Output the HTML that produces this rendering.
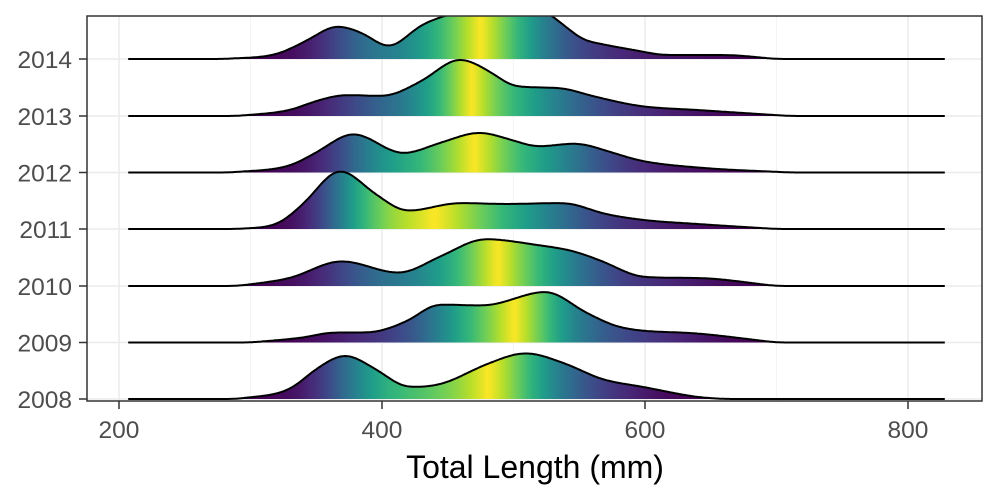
<!DOCTYPE html>
<html><head><meta charset="utf-8"><style>body{margin:0;background:#fff}svg{display:block}</style></head>
<body>
<svg id="s" width="1000" height="500" xmlns="http://www.w3.org/2000/svg" font-family="Liberation Sans, sans-serif">
<defs><clipPath id="cp"><rect x="87" y="16" width="895" height="385"/></clipPath></defs>
<rect x="0" y="0" width="1000" height="500" fill="#fff"/>
<g id="grid"></g>
<g id="ridges" clip-path="url(#cp)"></g>
<rect x="87" y="16" width="895" height="385" fill="none" stroke="#333" stroke-width="1.5"/>
<g id="ax" fill="#4d4d4d" font-size="24.5"></g>
<text x="535" y="478" font-size="32" text-anchor="middle" fill="#000">Total Length (mm)</text>
</svg>
<script>
const NS="http://www.w3.org/2000/svg";
const X=v=>119+(v-200)*1.315;
const base={2008:399,2009:342.5,2010:286,2011:229,2012:172.5,2013:116,2014:59};
const g=document.getElementById('grid'),R=document.getElementById('ridges'),A=document.getElementById('ax');
function el(t,a,p){const e=document.createElementNS(NS,t);for(const k in a)e.setAttribute(k,a[k]);p.appendChild(e);return e;}
[300,500,700].forEach(v=>el('line',{x1:X(v),x2:X(v),y1:16,y2:401,stroke:'#f2f2f2','stroke-width':0.8},g));
[200,400,600,800].forEach(v=>{el('line',{x1:X(v),x2:X(v),y1:16,y2:401,stroke:'#ebebeb','stroke-width':1.5},g);
 el('line',{x1:X(v),x2:X(v),y1:401,y2:409,stroke:'#333','stroke-width':1.5},A);
 el('text',{x:X(v),y:438,'text-anchor':'middle'},A).textContent=v;});
for(const y in base){el('line',{x1:87,x2:982,y1:base[y],y2:base[y],stroke:'#ebebeb','stroke-width':1.5},g);
 el('line',{x1:79,x2:87,y1:base[y],y2:base[y],stroke:'#333','stroke-width':1.5},A);
 el('text',{x:72,y:base[y]+9,'text-anchor':'end'},A).textContent=y;}
const P={
2014:[[280,0],[320,5],[345,20],[365,33],[385,26],[405,12],[430,34],[462,48],[492,53],[523,48],[540,32],[552,20],[567,15],[596,8],[615,4],[660,4],[700,0]],
2013:[[290,0],[330,6],[350,15],[372,21],[401,20],[430,35],[459,57],[485,42],[500,30],[535,28],[560,20],[596,10],[640,6],[710,0]],
2012:[[285,0],[330,7],[350,20],[378,39],[416,19],[445,30],[474,40],[500,32],[518,26],[547,29],[575,20],[596,12],[640,5],[710,0]],
2011:[[290,0],[320,5],[340,25],[368,59],[395,35],[419,18],[459,26],[494,25],[538,26],[570,15],[599,9],[640,5],[700,0]],
2010:[[290,0],[330,8],[369,25],[413,13],[445,30],[478,47],[518,41],[545,35],[567,25],[599,9],[640,8],[700,0]],
2009:[[300,0],[340,5],[363,10],[389,10],[420,22],[442,38],[477,37],[525,51],[555,30],[582,15],[640,9],[700,0]],
2008:[[290,0],[330,10],[350,30],[372,44],[395,30],[420,12],[445,15],[480,35],[509,46],[540,35],[567,20],[599,12],[640,2],[660,0]]};
function mono(pts){const n=pts.length,x=pts.map(p=>p[0]),y=pts.map(p=>p[1]);const d=[],m=[];
 for(let i=0;i<n-1;i++)d.push((y[i+1]-y[i])/(x[i+1]-x[i]));
 m[0]=d[0];m[n-1]=d[n-2];for(let i=1;i<n-1;i++)m[i]=(d[i-1]*d[i]<=0)?0:(d[i-1]+d[i])/2;
 for(let i=0;i<n-1;i++){if(d[i]===0){m[i]=m[i+1]=0;continue;}const a=m[i]/d[i],b=m[i+1]/d[i],s=a*a+b*b;if(s>9){const t=3/Math.sqrt(s);m[i]=t*a*d[i];m[i+1]=t*b*d[i];}}
 return v=>{if(v<=x[0]||v>=x[n-1])return 0;let i=0;while(v>x[i+1])i++;const h=x[i+1]-x[i],t=(v-x[i])/h;
  const h00=2*t*t*t-3*t*t+1,h10=t*t*t-2*t*t+t,h01=-2*t*t*t+3*t*t,h11=t*t*t-t*t;
  return Math.max(0,h00*y[i]+h10*h*m[i]+h01*y[i+1]+h11*h*m[i+1]);};}
const vir=[[68,1,84],[72,40,120],[62,74,137],[49,104,142],[38,130,142],[31,158,137],[53,183,121],[110,206,88],[181,222,43],[253,231,37]];
function vc(t){t=Math.max(0,Math.min(1,t))*9;const i=Math.min(8,Math.floor(t)),f=t-i;const a=vir[i],b=vir[i+1];
 return 'rgb('+a.map((c,k)=>Math.round(c+(b[k]-c)*f)).join(',')+')';}
const x0=207,x1=828,S=5,K=[];let ks=0;
for(let k=-15;k<=15;k++){const w=Math.exp(-0.5*(k/S)**2);K.push(w);ks+=w;}
Object.keys(base).sort((a,b)=>b-a).forEach(y=>{
 const b=base[y],f=mono(P[y]);const xs=[],raw=[];
 for(let v=x0;v<=x1;v+=1){xs.push(v);raw.push(f(v));}
 const ds=raw.map((_,i)=>{let s=0;for(let k=-15;k<=15;k++){const j=i+k;if(j>=0&&j<raw.length)s+=raw[j]*K[k+15];}return s/ks;});
 const tot=ds.reduce((a,c)=>a+c,0);let c=0;const F=ds.map(d=>(c+=d)/tot);
 const gid='g'+y;const lg=el('linearGradient',{id:gid,gradientUnits:'userSpaceOnUse',x1:X(x0),x2:X(x1),y1:0,y2:0},document.querySelector('defs'));
 for(let i=0;i<xs.length;i+=3){el('stop',{offset:(i/(xs.length-1)).toFixed(4),'stop-color':vc(1-2*Math.abs(F[i]-0.5))},lg);}
 let l='M'+X(x0)+','+b;xs.forEach((v,i)=>l+=' L'+X(v).toFixed(1)+','+(b-ds[i]).toFixed(1));
 el('path',{d:l+' L'+X(x1)+','+b+' Z',fill:'url(#'+gid+')',stroke:'none'},R);
 el('path',{d:l,fill:'none',stroke:'#000','stroke-width':2},R);
});
</script>
</body></html>
